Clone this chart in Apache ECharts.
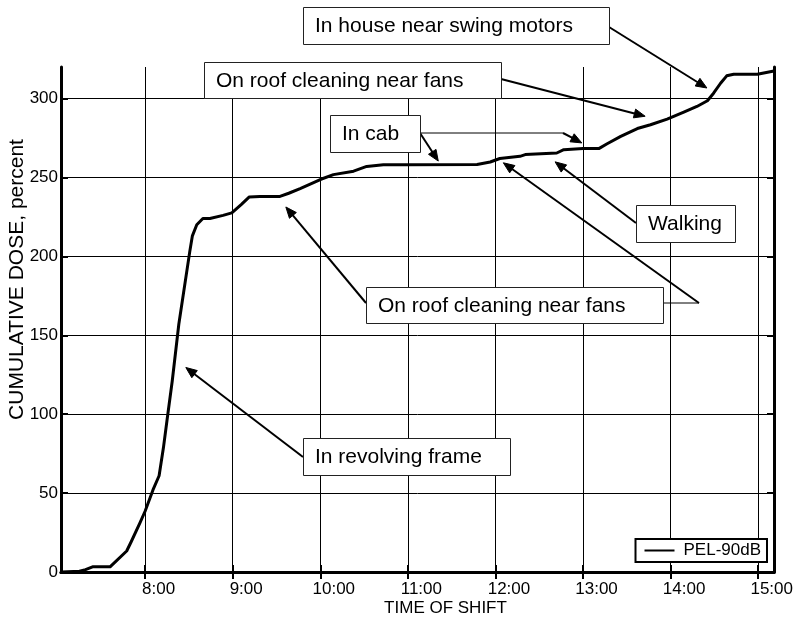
<!DOCTYPE html>
<html><head><meta charset="utf-8">
<script src="https://cdn.jsdelivr.net/npm/echarts@6/dist/echarts.min.js"></script>
<style>html,body{margin:0;padding:0;background:#fff}#c{width:793px;height:618px}</style>
</head><body><div id="c"></div>
<script>
// ---- data ----
const timeHours = [7.05,7.25,7.32,7.40,7.60,7.79,7.84,7.94,8.00,8.09,8.16,8.21,8.25,8.31,8.385,8.51,8.54,8.59,8.66,8.74,8.89,8.99,9.10,9.19,9.31,9.54,9.64,9.77,10.00,10.15,10.38,10.53,10.72,10.99,11.79,11.94,12.05,12.28,12.34,12.70,12.78,13.00,13.18,13.27,13.43,13.62,13.77,13.96,14.15,14.30,14.42,14.49,14.57,14.64,14.72,14.99,15.18];
const dosePercent = [0,0.5,1.5,3.3,3.3,13.3,19,31,38.5,52,61,79,96,121,157,203,213,220,224,224,226,227.6,233,237.7,238,238,240,243,248.7,251.8,254,257,258,258,258.2,259.8,262,263.4,264.5,265.5,267.6,268.3,268.3,271.2,276,281,283.4,287,291.4,295,298.6,303.4,309.7,314.4,315.4,315.4,317.5];
const xTickHours = [8,9,10,11,12,13,14,15];
const yTicks = [0,50,100,150,200,250,300];
const seriesName = 'PEL-90dB';
const xTitle = 'TIME OF SHIFT';
const yTitle = 'CUMULATIVE DOSE, percent';
const annotationTexts = ['In house near swing motors','On roof cleaning near fans','In cab','Walking','On roof cleaning near fans','In revolving frame'];
// arrow targets (data units): which box, hour, dose
const arrowBox = [0,1,2,2,3,4,4,5];
const arrowTargetHour = [14.414,13.709,11.347,12.986,12.681,9.607,12.090,8.465];
const arrowTargetDose = [306.7,288.8,260.4,271.9,259.9,231.3,259.3,129.6];

// ---- layout (pixels) ----
const boxes = [
  {x:303,y:7,w:306,h:37},
  {x:204,y:62,w:297,h:36},
  {x:330,y:115,w:90,h:37},
  {x:636,y:205,w:99,h:37},
  {x:366,y:287,w:297,h:36},
  {x:303,y:438,w:207,h:37}
];
// tail points (and elbows) of each arrow, pixels
const arrowTails = [
  [[609,27]],
  [[501,79]],
  [[420,133]],
  [[420,133],[563,133]],
  [[636,223]],
  [[366,303]],
  [[663,303],[699,303]],
  [[303,457]]
];

const FONT = '"Liberation Sans", Arial, sans-serif';
const XMIN = 7.04, XMAX = 15.18, YMIN = 0, YMAX = 320;
const fmtHour = v => Math.round(v) + ':00';

const axisLineStyle = {show:true, lineStyle:{color:'#000', width:3}};
const tickStyleX = {show:true, inside:true, length:7, lineStyle:{color:'#000', width:2}, customValues:xTickHours};
const tickStyleY = {show:true, inside:true, length:7, lineStyle:{color:'#000', width:2}, customValues:yTicks};

const chart = echarts.init(document.getElementById('c'), null, {renderer:'canvas'});
const option = {
  animation:false,
  backgroundColor:'#fff',
  grid:{left:61, right:19, top:67, bottom:46, containLabel:false, outerBoundsMode:'none'},
  legend:{
    right:26, bottom:56, orient:'horizontal',
    backgroundColor:'#fff', borderColor:'#000', borderWidth:2,
    padding:[3,6,3,9], itemWidth:30, itemHeight:14, itemGap:8,
    textStyle:{fontFamily:FONT, fontSize:17, color:'#000', padding:[0,0,0,4]},
    lineStyle:{width:2},
    data:[{name:seriesName, icon:'path://M0,7L30,7L30,9L0,9Z'}]
  },
  xAxis:[
    {type:'value', position:'bottom', min:XMIN, max:XMAX,
     axisLine:axisLineStyle, axisTick:tickStyleX,
     axisLabel:{show:true, customValues:xTickHours, formatter:fmtHour, margin:9, padding:[0,0,0,27], fontFamily:FONT, fontSize:17, color:'#000'},
     splitLine:{show:true, lineStyle:{color:'#000', width:1}},
     name:xTitle, nameLocation:'middle', nameGap:28, nameMoveOverlap:false,
     nameTextStyle:{fontFamily:FONT, fontSize:17, color:'#000', padding:[0,0,0,56]}},
    {type:'value', position:'top', min:XMIN, max:XMAX,
     axisLine:axisLineStyle, axisTick:tickStyleX, axisLabel:{show:false}, splitLine:{show:false}}
  ],
  yAxis:[
    {type:'value', position:'left', min:YMIN, max:YMAX, interval:50,
     axisLine:axisLineStyle, axisTick:tickStyleY,
     axisLabel:{show:true, customValues:yTicks, margin:3, fontFamily:FONT, fontSize:17, color:'#000'},
     splitLine:{show:true, lineStyle:{color:'#000', width:1}},
     name:yTitle, nameLocation:'middle', nameGap:33, nameMoveOverlap:false,
     nameTextStyle:{fontFamily:FONT, fontSize:21, color:'#000', padding:[0,0,0,80]}},
    {type:'value', position:'right', min:YMIN, max:YMAX, interval:50,
     axisLine:axisLineStyle, axisTick:tickStyleY, axisLabel:{show:false}, splitLine:{show:false}}
  ],
  series:[{
    name:seriesName, type:'line', xAxisIndex:0, yAxisIndex:0,
    data:timeHours.map((h,i)=>[h, dosePercent[i]]),
    symbol:'none', showSymbol:false, smooth:false,
    lineStyle:{color:'#000', width:3, join:'round'},
    itemStyle:{color:'#000'}, z:3
  }]
};
chart.setOption(option);

// ---- annotations ----
function buildAnnotations(){
  const els = [];
  boxes.forEach((b,i)=>{
    els.push({type:'rect', shape:{x:b.x+0.5, y:b.y+0.5, width:b.w, height:b.h},
      style:{fill:'#fff', stroke:'#222', lineWidth:1}, z:100});
    els.push({type:'text', x:b.x+12, y:b.y+b.h/2+1,
      style:{text:annotationTexts[i], font:'21px "Liberation Sans", Arial, sans-serif', fill:'#000', verticalAlign:'middle', align:'left'}, z:101});
  });
  arrowTargetHour.forEach((h,i)=>{
    const tip = chart.convertToPixel({xAxisIndex:0, yAxisIndex:0}, [h, arrowTargetDose[i]]);
    const pts = arrowTails[i].map(p=>p.slice());
    const last = pts[pts.length-1];
    const dx = tip[0]-last[0], dy = tip[1]-last[1];
    const L = Math.sqrt(dx*dx+dy*dy);
    const ux = dx/L, uy = dy/L;
    const hl = 11, hw = 4.5;
    const base = [tip[0]-ux*hl, tip[1]-uy*hl];
    if (pts.length > 1) {
      els.push({type:'polyline', shape:{points:pts}, style:{stroke:'#000', lineWidth:1, fill:null}, z:99});
    }
    els.push({type:'line', shape:{x1:last[0], y1:last[1], x2:base[0]+ux*2, y2:base[1]+uy*2},
      style:{stroke:'#000', lineWidth:2}, z:99});
    els.push({type:'polygon', shape:{points:[tip,[base[0]-uy*hw, base[1]+ux*hw],[base[0]+uy*hw, base[1]-ux*hw]]},
      style:{fill:'#000', stroke:'#000', lineWidth:1}, z:99});
  });
  chart.setOption({graphic:{elements:els}});
}
buildAnnotations();
</script>
</body></html>
